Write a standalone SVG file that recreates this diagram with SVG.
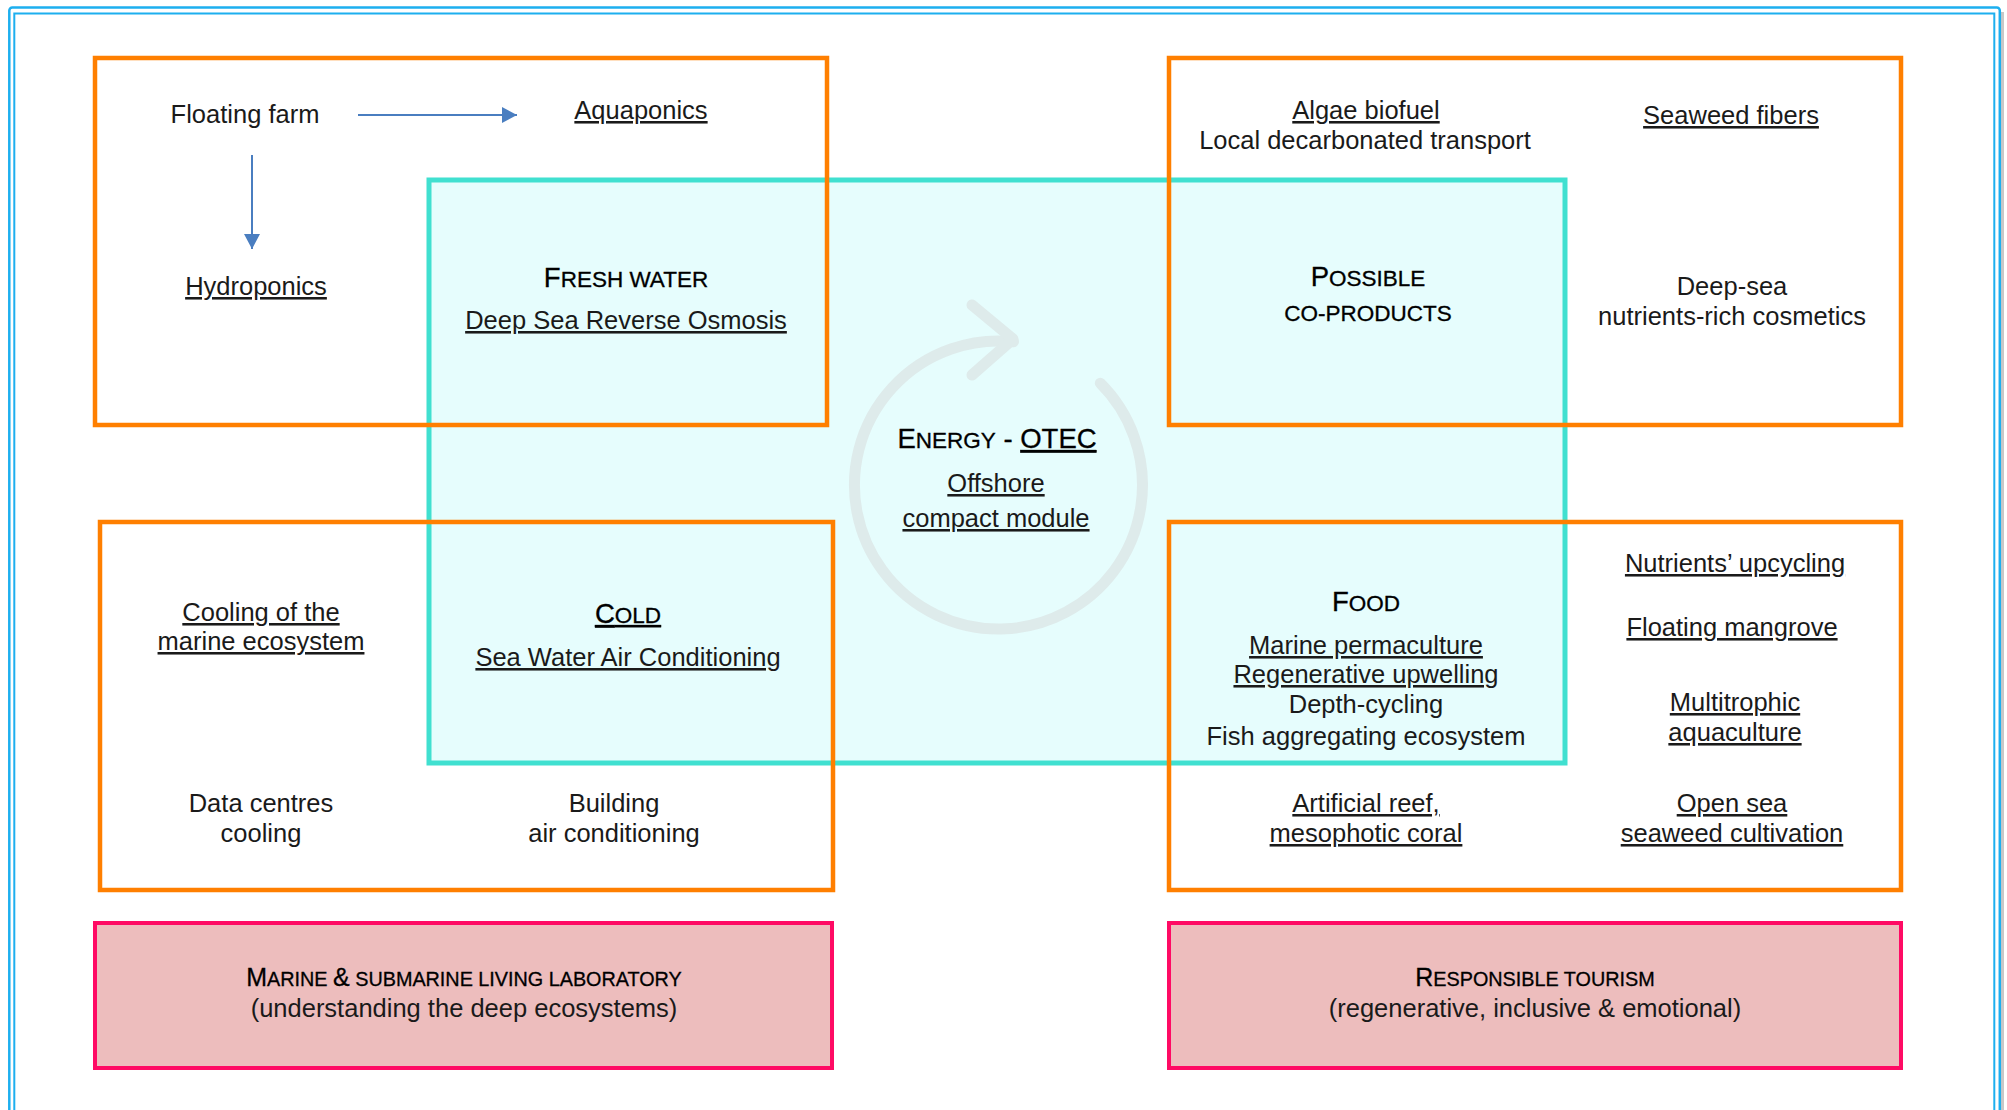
<svg xmlns="http://www.w3.org/2000/svg" width="2007" height="1110" viewBox="0 0 2007 1110">
  <defs>
    <style>
      text { font-family: "Liberation Sans", Arial, sans-serif; font-size: 25.5px; fill: #1a1a1a; text-anchor: middle; }
      .u { text-decoration: underline; }
      .h { fill: #000; font-size: 22.5px; stroke: #000; stroke-width: 0.3px; }
      .big { font-size: 27.5px; }
      .ph { fill: #000; font-size: 19.8px; stroke: #000; stroke-width: 0.3px; }
      .pbig { font-size: 25px; }
      .orange { fill: none; stroke: #FF7F00; stroke-width: 4.5; }
      .pink { fill: #EDBDBD; stroke: #FF0A64; stroke-width: 4; }
      .teal { fill: #E6FDFD; stroke: #40E0D0; stroke-width: 5; }
      .blue { fill: none; stroke: #1DAFEF; }
      .conn { stroke: #4A7EC0; stroke-width: 2; fill: none; }
    </style>
    <marker id="ah" markerWidth="15" markerHeight="16" refX="15" refY="8" orient="auto" markerUnits="userSpaceOnUse">
      <path d="M0,0 L15,8 L0,16 Z" fill="#4A7EC0"/>
    </marker>
  </defs>

  <rect width="2007" height="1110" fill="#FFFFFF"/>

  <g id="frame">
    <line x1="2002.5" y1="12" x2="2002.5" y2="1110" stroke="#C8C8C8" stroke-width="3"/>
    <rect class="blue" x="9.3" y="7.5" width="1990.5" height="1120" rx="3" stroke-width="2.5"/>
    <rect class="blue" x="14.3" y="13.5" width="1980" height="1120" stroke-width="2"/>
  </g>

  <g id="energy-core">
    <rect class="teal" x="429" y="180" width="1136" height="583"/>
  </g>

  <g id="cycle-icon" fill="none" stroke="#DEEBEB" stroke-width="11" stroke-linecap="round" stroke-linejoin="round">
    <path d="M 1100.3 383.2 A 144 144 0 1 1 1013.5 341.8"/>
    <polyline points="972,305 1013,339 972,375"/>
  </g>

  <g id="fresh-water-zone">
    <rect class="orange" x="95" y="58" width="732" height="367"/>
  </g>
  <g id="co-products-zone">
    <rect class="orange" x="1169" y="58" width="732" height="367"/>
  </g>
  <g id="cold-zone">
    <rect class="orange" x="100" y="522" width="733" height="368"/>
  </g>
  <g id="food-zone">
    <rect class="orange" x="1169" y="522" width="732" height="368"/>
  </g>

  <g id="connectors">
    <line class="conn" x1="358" y1="115" x2="517" y2="115" marker-end="url(#ah)"/>
    <line class="conn" x1="252" y1="155" x2="252" y2="249" marker-end="url(#ah)"/>
  </g>

  <g id="floating-farm"><text x="245" y="123">Floating farm</text></g>
  <g id="aquaponics"><text class="u" x="641" y="119">Aquaponics</text></g>
  <g id="hydroponics"><text class="u" x="256" y="295">Hydroponics</text></g>

  <g id="fresh-water">
    <text class="h" x="626" y="287"><tspan class="big">F</tspan>RESH WATER</text>
    <text class="u" x="626" y="329">Deep Sea Reverse Osmosis</text>
  </g>

  <g id="algae-biofuel">
    <text class="u" x="1366" y="119">Algae biofuel</text>
    <text x="1365" y="149">Local decarbonated transport</text>
  </g>
  <g id="seaweed-fibers"><text class="u" x="1731" y="124">Seaweed fibers</text></g>
  <g id="possible-co-products">
    <text class="h" x="1368" y="286"><tspan class="big">P</tspan>OSSIBLE</text>
    <text class="h" x="1368" y="321">CO-PRODUCTS</text>
  </g>
  <g id="cosmetics">
    <text x="1732" y="295">Deep-sea</text>
    <text x="1732" y="325">nutrients-rich cosmetics</text>
  </g>

  <g id="energy-otec">
    <text class="h" x="997" y="448"><tspan class="big">E</tspan>NERGY<tspan class="big"> - </tspan><tspan class="big u">OTEC</tspan></text>
    <text class="u" x="996" y="492">Offshore</text>
    <text class="u" x="996" y="527">compact module</text>
  </g>

  <g id="cooling-marine">
    <text class="u" x="261" y="621">Cooling of the</text>
    <text class="u" x="261" y="650">marine ecosystem</text>
  </g>
  <g id="cold">
    <text class="h u" x="628" y="623"><tspan class="big">C</tspan>OLD</text>
    <text class="u" x="628" y="666">Sea Water Air Conditioning</text>
  </g>
  <g id="data-centres">
    <text x="261" y="812">Data centres</text>
    <text x="261" y="842">cooling</text>
  </g>
  <g id="building-ac">
    <text x="614" y="812">Building</text>
    <text x="614" y="842">air conditioning</text>
  </g>

  <g id="nutrients-upcycling"><text class="u" x="1735" y="572">Nutrients’ upcycling</text></g>
  <g id="floating-mangrove"><text class="u" x="1732" y="636">Floating mangrove</text></g>
  <g id="multitrophic">
    <text class="u" x="1735" y="711">Multitrophic</text>
    <text class="u" x="1735" y="741">aquaculture</text>
  </g>
  <g id="food">
    <text class="h" x="1366" y="611"><tspan class="big">F</tspan>OOD</text>
    <text class="u" x="1366" y="654">Marine permaculture</text>
    <text class="u" x="1366" y="683">Regenerative upwelling</text>
    <text x="1366" y="713">Depth-cycling</text>
    <text x="1366" y="745">Fish aggregating ecosystem</text>
  </g>
  <g id="artificial-reef">
    <text class="u" x="1366" y="812">Artificial reef,</text>
    <text class="u" x="1366" y="842">mesophotic coral</text>
  </g>
  <g id="open-sea-seaweed">
    <text class="u" x="1732" y="812">Open sea</text>
    <text class="u" x="1732" y="842">seaweed cultivation</text>
  </g>

  <g id="living-laboratory">
    <rect class="pink" x="95" y="923" width="737" height="145"/>
    <text class="ph" x="464" y="986"><tspan class="pbig">M</tspan>ARINE <tspan class="pbig">&amp;</tspan> SUBMARINE LIVING LABORATORY</text>
    <text x="464" y="1017">(understanding the deep ecosystems)</text>
  </g>
  <g id="responsible-tourism">
    <rect class="pink" x="1169" y="923" width="732" height="145"/>
    <text class="ph" x="1535" y="986"><tspan class="pbig">R</tspan>ESPONSIBLE TOURISM</text>
    <text x="1535" y="1017">(regenerative, inclusive &amp; emotional)</text>
  </g>
</svg>
